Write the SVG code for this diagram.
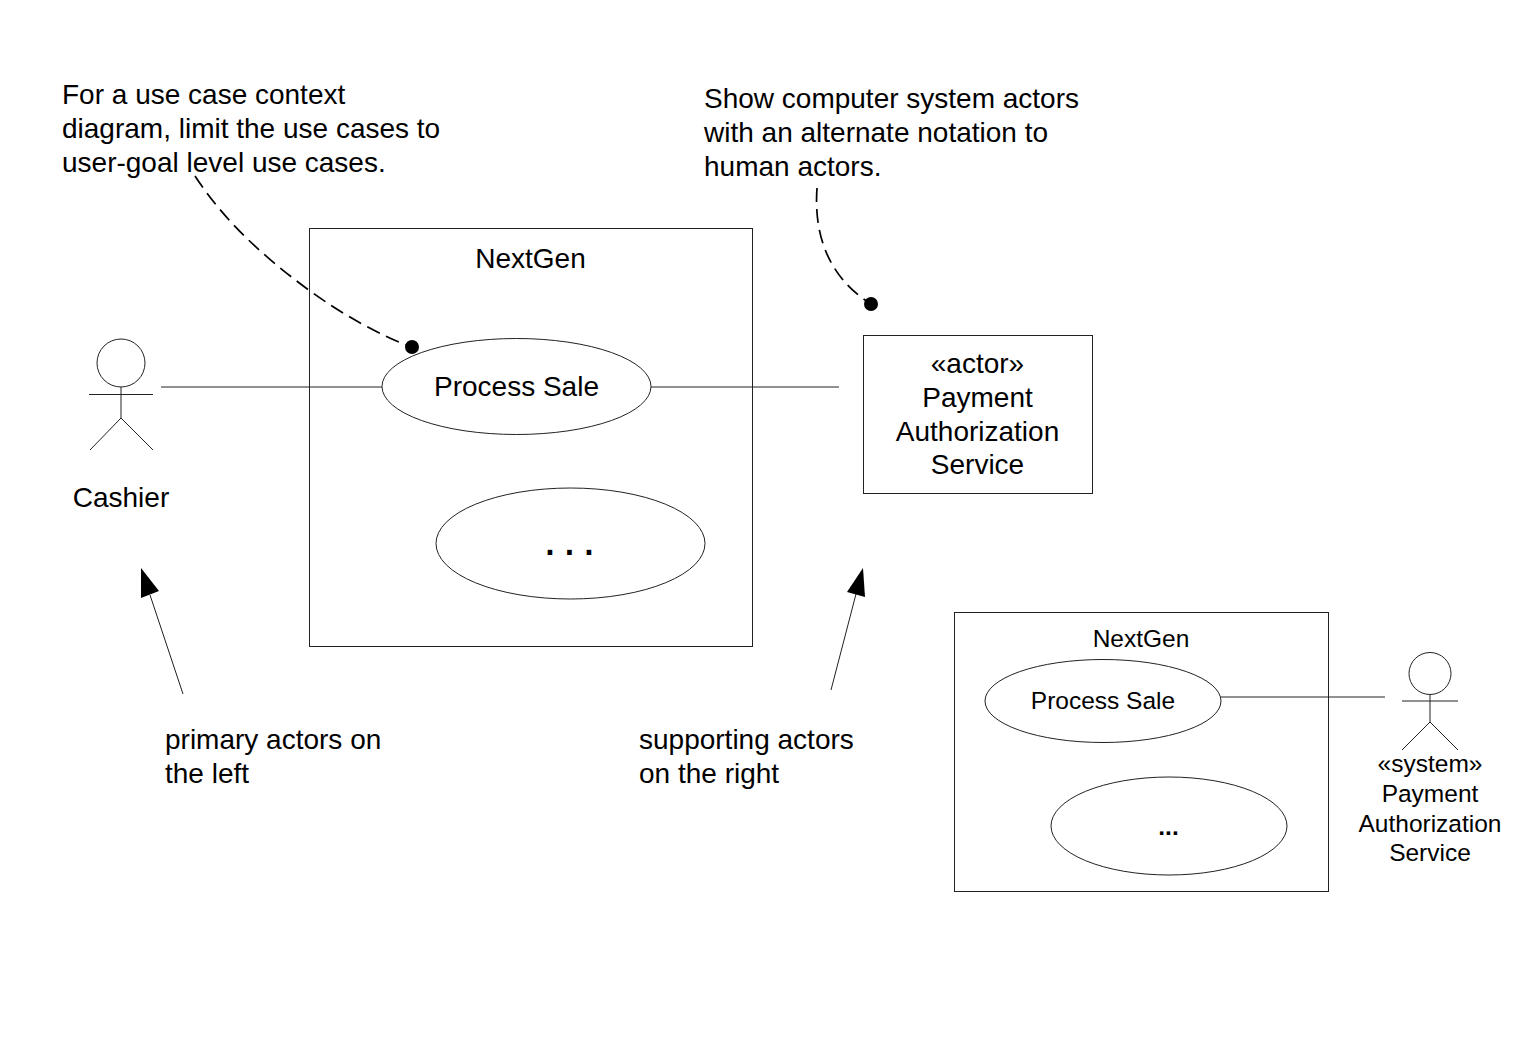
<svg xmlns="http://www.w3.org/2000/svg" width="1522" height="1046" viewBox="0 0 1522 1046">
<style>
.s{fill:none;stroke:#222;stroke-width:1}
.d{fill:none;stroke:#000;stroke-width:1.7;stroke-dasharray:14 7}
text{font-family:"Liberation Sans",Arial,sans-serif;font-size:28px;fill:#000}
.m{text-anchor:middle}
.k{font-size:24.5px}
</style>
<rect width="1522" height="1046" fill="#fff"/>
<g id="connectors">
<path class="s" d="M161 387H382"/>
<path class="s" d="M651 387H839"/>
<path class="s" d="M1221 697H1385"/>
<path class="d" d="M195 176C225 222 265 258 310 291C345 316 378 334 411 347"/>
<circle cx="412" cy="347" r="7"/>
<path class="d" d="M817 188C814 230 825 275 871 304"/>
<circle cx="871" cy="304" r="7"/>
<path class="s" d="M183 694L150 595"/>
<polygon points="141,568 159,591 141,598"/>
<path class="s" d="M831 690L856 594"/>
<polygon points="863,568 865,597 847,592"/>
</g>
<g id="note-usecases"><text x="62" y="104">For a use case context</text><text x="62" y="138">diagram, limit the use cases to</text><text x="62" y="172">user-goal level use cases.</text></g>
<g id="note-system"><text x="704" y="108">Show computer system actors</text><text x="704" y="142">with an alternate notation to</text><text x="704" y="176">human actors.</text></g>
<g id="boundary-large"><rect class="s" x="309.500" y="228.500" width="443" height="418"/><text class="m" x="530.500" y="268">NextGen</text></g>
<g id="usecase-process-sale"><ellipse class="s" cx="516.500" cy="386.500" rx="134.500" ry="48"/><text class="m" x="516.500" y="396">Process Sale</text></g>
<g id="usecase-more"><ellipse class="s" cx="570.500" cy="543.500" rx="134.500" ry="55.500"/><text x="543.300" y="555" style="font-size:48px;letter-spacing:6.2px">...</text></g>
<g id="actor-cashier"><circle class="s" cx="121" cy="363" r="24"/><path class="s" d="M121 387V418M89 394.500H153M121 418L90 450M121 418L153 450"/><text class="m" x="121" y="507">Cashier</text></g>
<g id="actor-payment-box"><rect class="s" x="863.500" y="335.500" width="229" height="158"/><text class="m" x="977.500" y="373">«actor»</text><text class="m" x="977.500" y="407">Payment</text><text class="m" x="977.500" y="441">Authorization</text><text class="m" x="977.500" y="474">Service</text></g>
<g id="label-primary"><text x="165" y="749">primary actors on</text><text x="165" y="783">the left</text></g>
<g id="label-supporting"><text x="639" y="749">supporting actors</text><text x="639" y="783">on the right</text></g>
<g id="boundary-small"><rect class="s" x="954.500" y="612.500" width="374" height="279"/><text class="m k" x="1141" y="647">NextGen</text></g>
<g id="usecase-small-sale"><ellipse class="s" cx="1103" cy="701" rx="118" ry="41.500"/><text class="m k" x="1103" y="709">Process Sale</text></g>
<g id="usecase-small-more"><ellipse class="s" cx="1169" cy="826" rx="118" ry="49"/><text class="m k" x="1168.500" y="835" style="font-weight:bold">...</text></g>
<g id="actor-system"><circle class="s" cx="1430" cy="673.500" r="21"/><path class="s" d="M1430 694.500V722M1402 701H1458M1430 722L1402 750M1430 722L1458 750"/><text class="m k" x="1430" y="772">«system»</text><text class="m k" x="1430" y="802">Payment</text><text class="m k" x="1430" y="832">Authorization</text><text class="m k" x="1430" y="861">Service</text></g>
</svg>
